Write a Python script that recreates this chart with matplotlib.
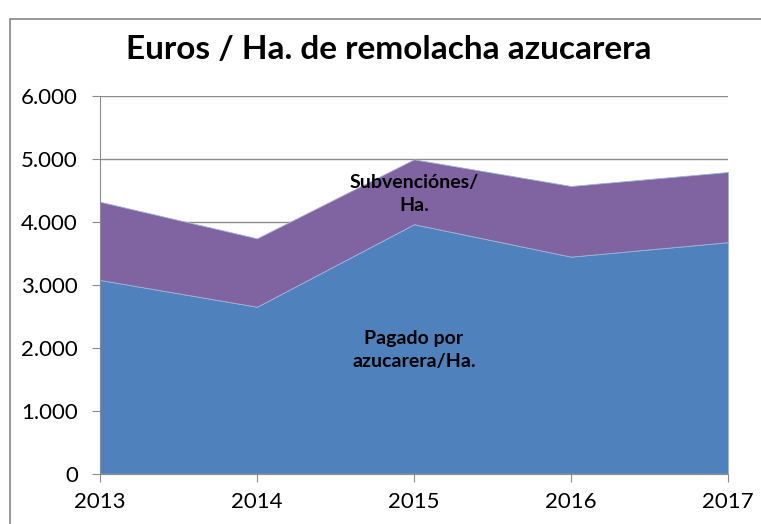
import matplotlib.pyplot as plt
from matplotlib.patches import Rectangle
from matplotlib.ticker import FuncFormatter, MultipleLocator

years = [2013, 2014, 2015, 2016, 2017]
pagado = [3075, 2650, 3960, 3445, 3675]
subvencion = [1242, 1086, 1030, 1122, 1114]

plt.rcParams['font.family'] = ['Lato', 'DejaVu Sans']

fig = plt.figure(figsize=(7.61, 5.24), dpi=100)
fig.patches.append(Rectangle((10 / 761, -0.05), 1.2, (524 - 19) / 524 + 0.05,
                             transform=fig.transFigure, fill=False,
                             edgecolor='#868686', linewidth=1.2))

ax = fig.add_axes([100 / 761, 50.3 / 524, 628 / 761, 378 / 524])
ax.stackplot(years, pagado, subvencion, colors=['#4F81BD', '#8064A2'],
             edgecolor='#9DB4D8', linewidth=0.6)

ax.set_xlim(2013, 2017)
ax.set_ylim(0, 6000)
ax.yaxis.set_major_locator(MultipleLocator(1000))
ax.yaxis.set_major_formatter(FuncFormatter(lambda v, p: f'{int(v):,}'.replace(',', '.')))
ax.set_xticks(years)
ax.grid(axis='y', color='#8C8C8C', linewidth=1)
ax.set_axisbelow(True)
for s in ['top', 'right']:
      ax.spines[s].set_visible(False)
ax.spines['left'].set_color('#8C8C8C')
ax.spines['bottom'].set_color('#8C8C8C')
ax.tick_params(axis='both', colors='#8C8C8C', labelcolor='black', labelsize=16, length=6)
ax.tick_params(axis='x', pad=7)
ax.tick_params(axis='y', pad=10)

ax.text(2015.0, 4440, 'Subvenciónes/\nHa.', ha='center', va='center', fontsize=14,
        fontweight='bold', linespacing=1.45)
ax.text(2015.0, 1960, 'Pagado por\nazucarera/Ha.', ha='center', va='center', fontsize=14,
        fontweight='bold', linespacing=1.45)

fig.text(0.511, 0.905, 'Euros / Ha. de remolacha azucarera', ha='center', va='center',
         fontsize=24, fontweight='bold')

fig.savefig('out.png', dpi=100)
